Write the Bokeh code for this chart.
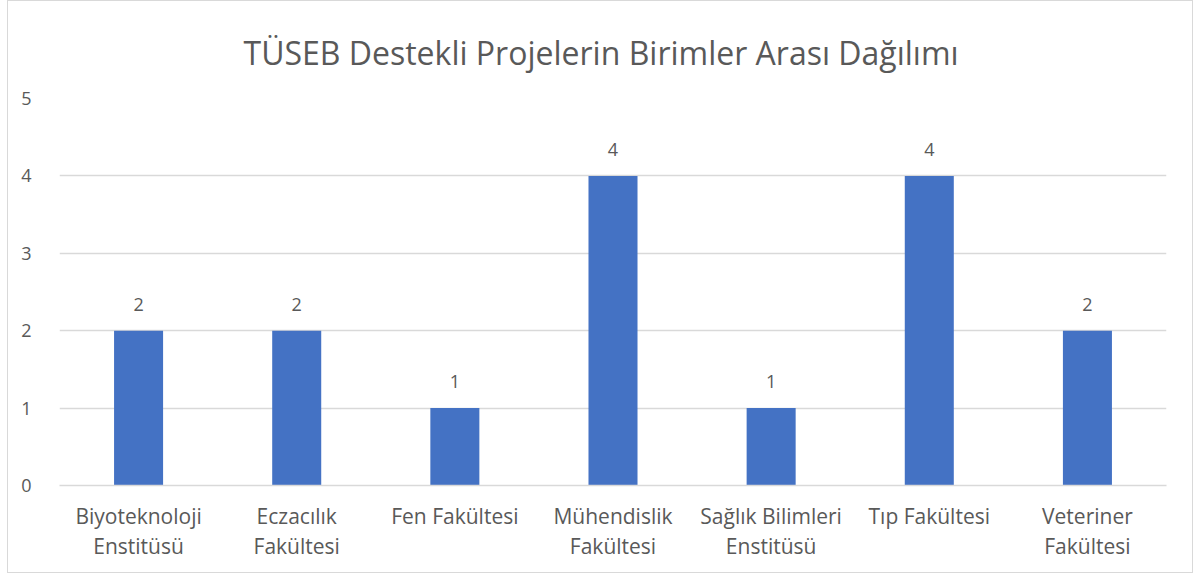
from bokeh.plotting import figure
from bokeh.models import ColumnDataSource, LabelSet, FixedTicker, Range1d
from bokeh.core.properties import value
from bokeh.embed import file_html
from bokeh.resources import INLINE

categories = ["Biyoteknoloji\nEnstitüsü", "Eczacılık\nFakültesi", "Fen Fakültesi",
              "Mühendislik\nFakültesi", "Sağlık Bilimleri\nEnstitüsü", "Tıp Fakültesi",
              "Veteriner\nFakültesi"]
values = [2, 2, 1, 4, 1, 4, 2]
y_ticks = [0, 1, 2, 3, 4, 5]

FONT = "Open Sans"
GRAY = "#595959"

src = ColumnDataSource(dict(cat=categories, val=values, lab=[str(v) for v in values]))

p = figure(x_range=categories, y_range=Range1d(0, 5), width=1186, height=573,
           output_backend="svg", toolbar_location=None,
           title="TÜSEB Destekli Projelerin Birimler Arası Dağılımı",
           min_border_left=51, min_border_right=28, min_border_top=97, min_border_bottom=89)

p.vbar(x="cat", top="val", width=0.31, source=src, color="#4472C4", line_color=None)

labels = LabelSet(x="cat", y="val", text="lab", source=src, text_align="center",
                  text_baseline="bottom", y_offset=20, text_font=value(FONT),
                  text_font_size="18px", text_color=GRAY)
p.add_layout(labels)

p.title.align = "left"
p.title.vertical_align = "top"
p.title.text_font = FONT
p.title.text_font_size = "32px"
p.title.text_font_style = "normal"
p.title.text_color = GRAY
p.title.standoff = 45
p.title.offset = 184

p.outline_line_color = None
p.xgrid.grid_line_color = None
p.ygrid.grid_line_color = "#d9d9d9"
p.ygrid.grid_line_width = 1.3
p.yaxis.ticker = FixedTicker(ticks=y_ticks)
p.yaxis.axis_line_color = None
p.yaxis.major_tick_line_color = None
p.yaxis.minor_tick_line_color = None
p.yaxis.major_label_standoff = 22
p.yaxis.major_label_text_font = FONT
p.yaxis.major_label_text_font_size = "18px"
p.yaxis.major_label_text_color = GRAY

p.xaxis.axis_line_color = "#d9d9d9"
p.xaxis.axis_line_width = 1.3
p.xaxis.major_tick_line_color = None
p.xaxis.minor_tick_line_color = None
p.xaxis.major_label_standoff = 10
p.xaxis.major_label_text_font = FONT
p.xaxis.major_label_text_font_size = "21px"
p.xaxis.major_label_text_color = GRAY
p.xaxis.major_label_text_line_height = 1.1

p.styles = {"border": "1px solid #d9d9d9", "margin": "0 0 0 7px"}

open("out.html", "w").write(file_html(p, INLINE))
